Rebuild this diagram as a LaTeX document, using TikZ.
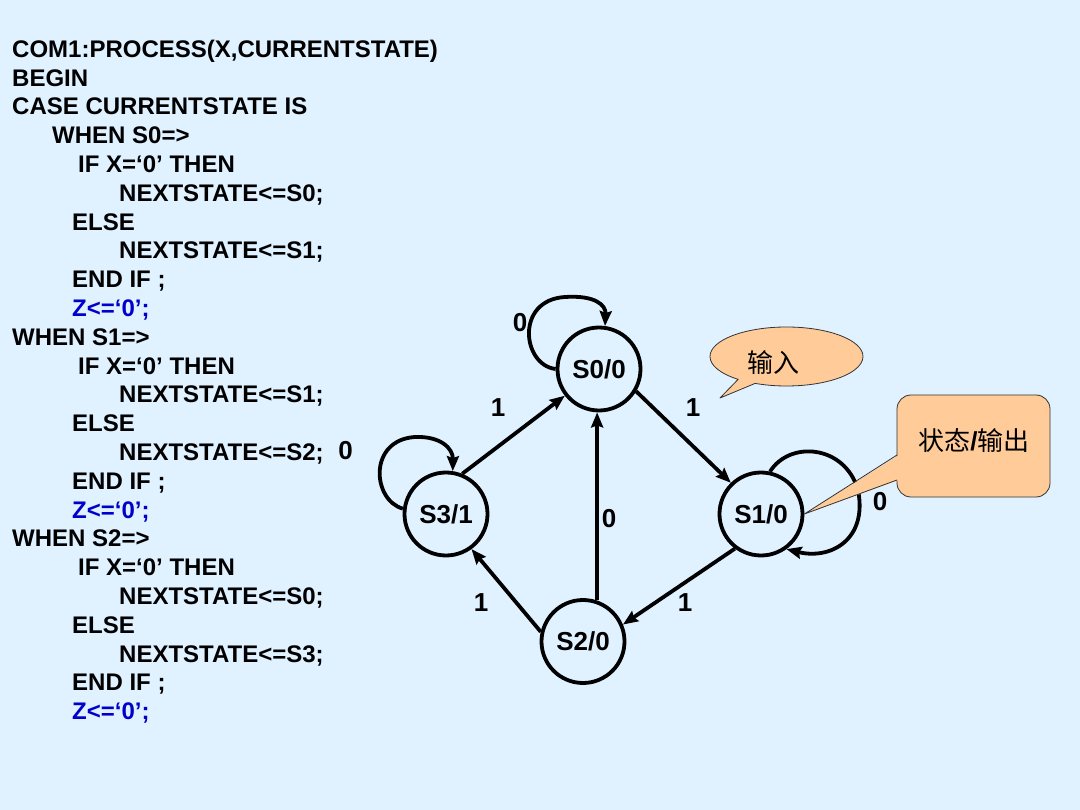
\documentclass[tikz,border=0pt]{standalone}
\usepackage{fontspec}
\setmainfont{Liberation Sans}
\newfontfamily\cjk{Noto Sans CJK SC}
\usetikzlibrary{arrows.meta,shapes.callouts}
\definecolor{bgblue}{RGB}{224,242,255}
\definecolor{peach}{RGB}{255,204,153}
\definecolor{zblue}{RGB}{0,0,204}
\begin{document}
\begin{tikzpicture}[x=1pt,y=-1pt,>={Stealth[length=15pt,width=12pt,inset=2pt]},line join=round,
  code/.style={anchor=base west,inner sep=0pt,font=\fontsize{24}{28}\selectfont\bfseries},
  zcode/.style={code,text=zblue},
  state/.style={circle,draw,line width=3.8pt,minimum size=83pt,inner sep=0pt,font=\fontsize{26}{30}\selectfont\bfseries},
  lbl/.style={inner sep=0pt,font=\fontsize{26}{30}\selectfont\bfseries},
  edge/.style={->,line width=3.8pt},
  note/.style={draw=black!80,line width=0.8pt,fill=peach},
  notetext/.style={inner sep=0pt,font=\fontsize{26}{30}\selectfont}]
\fill[bgblue] (0,0) rectangle (1080,810);
\useasboundingbox (0,0) rectangle (1080,810);
% process code
\node[code] (c1) at (12,57.3) {COM1:PROCESS(X,CURRENTSTATE)};
\node[code] (c2) at (12,86.1) {BEGIN};
\node[code] (c3) at (12,114.9) {CASE CURRENTSTATE IS};
\node[code] (c4) at (52,143.7) {WHEN S0=>};
\node[code] (c5) at (78,172.5) {IF X=‘0’ THEN};
\node[code] (c6) at (119,201.3) {NEXTSTATE<=S0;};
\node[code] (c7) at (72,230.1) {ELSE};
\node[code] (c8) at (119,258.9) {NEXTSTATE<=S1;};
\node[code] (c9) at (72,287.7) {END IF ;};
\node[zcode] (c10) at (72,316.5) {Z<=‘0’;};
\node[code] (c11) at (12,345.3) {WHEN S1=>};
\node[code] (c12) at (78,374.1) {IF X=‘0’ THEN};
\node[code] (c13) at (119,402.9) {NEXTSTATE<=S1;};
\node[code] (c14) at (72,431.7) {ELSE};
\node[code] (c15) at (119,460.5) {NEXTSTATE<=S2;};
\node[code] (c16) at (72,489.3) {END IF ;};
\node[zcode] (c17) at (72,518.1) {Z<=‘0’;};
\node[code] (c18) at (12,546.9) {WHEN S2=>};
\node[code] (c19) at (78,575.7) {IF X=‘0’ THEN};
\node[code] (c20) at (119,604.5) {NEXTSTATE<=S0;};
\node[code] (c21) at (72,633.3) {ELSE};
\node[code] (c22) at (119,662.1) {NEXTSTATE<=S3;};
\node[code] (c23) at (72,690.9) {END IF ;};
\node[zcode] (c24) at (72,719.7) {Z<=‘0’;};
% states
\node[state] (s0) at (599,369) {S0/0};
\node[state] (s1) at (761,514) {S1/0};
\node[state] (s2) at (583,641.5) {S2/0};
\node[state] (s3) at (446,514) {S3/1};
% transitions
\draw[edge] (s3.68) -- (s0.218);
\draw[edge] (s0.329) -- (s1.134);
\draw[edge] (s2.71) -- (s2.71 |- s0.south);
\draw[edge] (s1.233) -- (s2.23);
\draw[edge] (s2.167) -- (s3.306);
\draw[edge] (s0.180) .. controls (522,365) and (515,300) .. (565,297) .. controls (595,295) and (606,305) .. (s0.82);
\draw[edge] (s3.173) .. controls (372,500) and (368,440) .. (415,437) .. controls (440,436) and (453,448) .. (s3.81);
\draw[edge] (s1.78) .. controls (790,440) and (845,445) .. (858,490) .. controls (868,540) and (830,560) .. (s1.306);
\node[lbl] (l1) at (520,323) {0};
\node[lbl] (l2) at (498,408) {1};
\node[lbl] (l3) at (693,408) {1};
\node[lbl] (l4) at (345.5,450.5) {0};
\node[lbl] (l5) at (609,519) {0};
\node[lbl] (l6) at (880,502) {0};
\node[lbl] (l7) at (481,603) {1};
\node[lbl] (l8) at (685,603) {1};
% notes
\node[note,ellipse callout,minimum width=153pt,minimum height=59pt,inner sep=0pt,callout absolute pointer={(720,398)}] (inp) at (786.5,356.5) {};
\node[notetext] (inptxt) at (773,363) {\cjk 输入};
\node[note,rounded corners=14pt,minimum width=153pt,minimum height=102pt] (io) at (973.5,446) {};
\node[notetext] (iotxt) at (974,441) {{\cjk 状态}\textbf{/}{\cjk 输出}};
\coordinate (ioa) at (897,455);
\coordinate (iob) at (897,480);
\fill[peach] ([xshift=2pt]ioa) -- (s1.east) -- ([xshift=2pt]iob) -- cycle;
\draw[draw=black!80,line width=0.8pt] (ioa) -- (s1.east) -- (iob);
\end{tikzpicture}
\end{document}
